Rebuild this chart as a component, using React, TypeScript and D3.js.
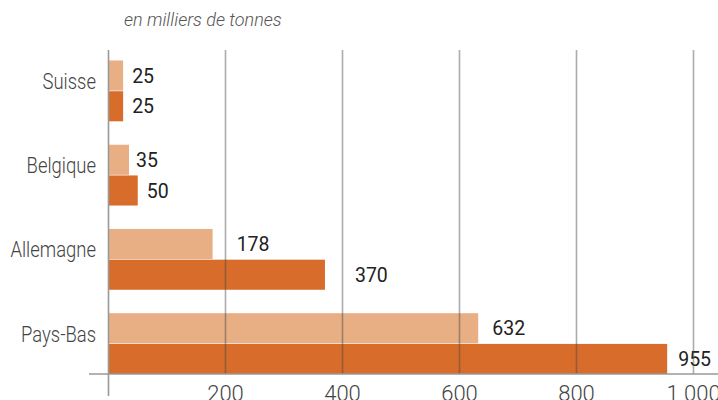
import React from "react";
import * as d3 from "d3";

const categories = ["Suisse", "Belgique", "Allemagne", "Pays-Bas"];
const seriesLight = [25, 35, 178, 632];
const seriesDark = [25, 50, 370, 955];
const ticks = [200, 400, 600, 800, 1000];
const subtitle = "en milliers de tonnes";

const W = 718;
const H = 400;
const LIGHT = "#E8AE84";
const DARK = "#D86D2B";

const labelDxLight = [9, 7, 24, 14];
const labelDxDark = [9, 9, 30, 11];

export default function App() {
  const x = d3.scaleLinear().domain([0, 1000]).range([108.5, 693.5]);
  const y = d3.scaleBand<string>().domain(categories).range([60.5, 374]).paddingInner(0.278).paddingOuter(0);
  const sub = d3.scaleBand<string>().domain(["light", "dark"]).range([0, y.bandwidth()]).paddingInner(0.02);
  const fr = d3.formatLocale({ decimal: ",", thousands: "\u00a0", grouping: [3], currency: ["", " €"] });
  const fmt = fr.format(",");
  const axisY = 374;
  const font = "Roboto, 'Open Sans', sans-serif";

  return (
    <svg width={W} height={H} style={{ position: "absolute", left: 0, top: 0, background: "#fff" }}>
      <text x={124} y={26} fontFamily={font} fontStyle="italic" fontWeight={300} fontSize={18} fill="#555">
        {subtitle}
      </text>
      {categories.map((c, i) => {
        const y0 = y(c)!;
        const yl = y0 + sub("light")!;
        const yd = y0 + sub("dark")!;
        const bh = sub.bandwidth();
        return (
          <g key={c}>
            <rect x={x(0)} y={yl} width={x(seriesLight[i]) - x(0)} height={bh} fill={LIGHT} />
            <rect x={x(0)} y={yd} width={x(seriesDark[i]) - x(0)} height={bh} fill={DARK} />
            <text x={x(seriesLight[i]) + labelDxLight[i]} y={yl + bh / 2} dy="0.36em" fontFamily={font} fontSize={19.5} fill="#222">
              {fmt(seriesLight[i])}
            </text>
            <text x={x(seriesDark[i]) + labelDxDark[i]} y={yd + bh / 2} dy="0.36em" fontFamily={font} fontSize={19.5} fill="#222">
              {fmt(seriesDark[i])}
            </text>
            <g transform={`translate(96,${y0 + y.bandwidth() / 2 - 2}) scale(0.84,1)`}>
              <text x={0} y={0} textAnchor="end" fontFamily={font} fontWeight={300} fontSize={22} fill="#444">
                {c}
              </text>
            </g>
          </g>
        );
      })}
      {ticks.map((t) => (
        <g key={t}>
          <line x1={x(t)} x2={x(t)} y1={50} y2={axisY} stroke="rgba(70,70,70,0.45)" strokeWidth={1.6} />
          <text x={x(t)} y={401} textAnchor="middle" fontFamily={font} fontWeight={300} fontSize={22} fill="#444">
            {fmt(t)}
          </text>
        </g>
      ))}
      <line x1={x(0)} x2={x(0)} y1={50} y2={396} stroke="#999" strokeWidth={1.6} />
      <line x1={89} x2={W} y1={axisY} y2={axisY} stroke="#999" strokeWidth={1.6} />
    </svg>
  );
}
